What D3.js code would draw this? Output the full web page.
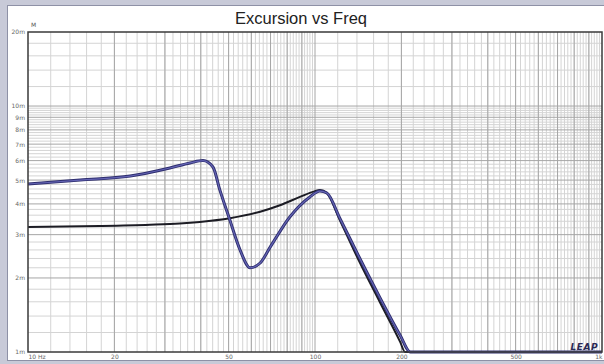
<!DOCTYPE html>
<html>
<head>
<meta charset="utf-8">
<script src="https://cdn.jsdelivr.net/npm/d3@7"></script>
<style>
  html, body { margin: 0; padding: 0; background: #c8cad8; }
  svg { display: block; }
</style>
</head>
<body>
<svg id="chart" width="604" height="364"></svg>
<script>
// Cone excursion (mm) versus frequency (Hz)
const freqBlue = [10, 15.2, 22.7, 31.2, 36.7, 40.7, 44.1, 46.6, 50.5, 54.8, 59.4, 64.4, 69.8, 81.7, 96, 104, 110, 122, 143, 168, 198, 215, 300, 600, 1000];
const excBlue  = [4.82, 5.0, 5.19, 5.6, 5.87, 6.0, 5.65, 4.56, 3.44, 2.6, 2.2, 2.3, 2.67, 3.54, 4.27, 4.51, 4.43, 3.5, 2.41, 1.67, 1.17, 1.0, 0.55, 0.15, 0.05];

const freqBlack = [10, 17.8, 26.6, 33.8, 39.7, 50.5, 64.4, 75.5, 88.6, 100, 104, 110, 122, 143, 168, 198, 206, 300, 600, 1000];
const excBlack  = [3.22, 3.25, 3.29, 3.33, 3.38, 3.5, 3.72, 3.95, 4.27, 4.51, 4.56, 4.43, 3.44, 2.32, 1.6, 1.1, 1.0, 0.5, 0.14, 0.05];

const yTickValues = [20, 10, 9, 8, 7, 6, 5, 4, 3, 2, 1];
const yTickLabels = ["20m", "10m", "9m", "8m", "7m", "6m", "5m", "4m", "3m", "2m", "1m"];
const xTickValues = [10, 20, 50, 100, 200, 500, 1000];
const xTickLabels = ["10 Hz", "20", "50", "100", "200", "500", "1k"];

const svg = d3.select("#chart");
const W = 604, H = 364;
const plot = { left: 28, right: 602, top: 32, bottom: 352 };

// window frame and white panel
svg.append("rect").attr("x", 0).attr("y", 0).attr("width", W).attr("height", H).attr("fill", "#c8cad8");
svg.append("rect").attr("x", 7.5).attr("y", 5.5).attr("width", W - 7).attr("height", 355)
  .attr("fill", "#ffffff").attr("stroke", "#8e91a6").attr("stroke-width", 1);

const x = d3.scaleLog().domain([10, 1000]).range([plot.left, plot.right]);
const y = d3.scaleLog().domain([1, 20]).range([plot.bottom, plot.top]).clamp(true);

// grid: 2 Hz steps below 100 Hz, 20 Hz steps above
const xMinor = d3.range(12, 100, 2).concat(d3.range(120, 1000, 20));
const xMajor = d3.range(20, 100, 10).concat(d3.range(200, 1000, 100), [100]);
const yMinor = d3.range(1.2, 10, 0.2).filter(v => Math.abs(v - Math.round(v)) > 1e-6).concat([12, 14, 16, 18]);
const yMajor = d3.range(2, 11, 1);

const grid = svg.append("g");
grid.selectAll(".vmin").data(xMinor).join("line")
  .attr("x1", d => x(d)).attr("x2", d => x(d)).attr("y1", plot.top).attr("y2", plot.bottom)
  .attr("stroke", "#d4d4d4").attr("stroke-width", 1);
grid.selectAll(".hmin").data(yMinor).join("line")
  .attr("x1", plot.left).attr("x2", plot.right).attr("y1", d => y(d)).attr("y2", d => y(d))
  .attr("stroke", "#d4d4d4").attr("stroke-width", 1);
grid.selectAll(".vmaj").data(xMajor).join("line")
  .attr("x1", d => x(d)).attr("x2", d => x(d)).attr("y1", plot.top).attr("y2", plot.bottom)
  .attr("stroke", "#a6a6a6").attr("stroke-width", 1);
grid.selectAll(".hmaj").data(yMajor).join("line")
  .attr("x1", plot.left).attr("x2", plot.right).attr("y1", d => y(d)).attr("y2", d => y(d))
  .attr("stroke", "#a6a6a6").attr("stroke-width", 1);

// curves
const line = d3.line().x(d => x(d[0])).y(d => y(d[1])).curve(d3.curveMonotoneX);
const clipId = "plotClip";
svg.append("clipPath").attr("id", clipId).append("rect")
  .attr("x", plot.left).attr("y", plot.top - 2).attr("width", plot.right - plot.left).attr("height", plot.bottom - plot.top + 4);

const curves = svg.append("g").attr("clip-path", `url(#${clipId})`);
curves.append("path").datum(d3.zip(freqBlack, excBlack)).attr("d", line)
  .attr("fill", "none").attr("stroke", "#1c1c24").attr("stroke-width", 2);
curves.append("path").datum(d3.zip(freqBlue, excBlue)).attr("d", line)
  .attr("fill", "none").attr("stroke", "#2e2e6e").attr("stroke-width", 3);
curves.append("path").datum(d3.zip(freqBlue, excBlue)).attr("d", line)
  .attr("fill", "none").attr("stroke", "#6464b4").attr("stroke-width", 1.2);

// plot border
svg.append("rect").attr("x", plot.left).attr("y", plot.top)
  .attr("width", plot.right - plot.left).attr("height", plot.bottom - plot.top)
  .attr("fill", "none").attr("stroke", "#3a3a3a").attr("stroke-width", 1.5);

// axes
const yAxis = d3.axisLeft(y).tickValues(yTickValues).tickSize(0).tickPadding(3)
  .tickFormat((d, i) => yTickLabels[i]);
const gy = svg.append("g").attr("transform", `translate(${plot.left},0)`).call(yAxis);
gy.select(".domain").remove();
gy.selectAll("text").attr("font-family", "DejaVu Sans, sans-serif").attr("font-size", 6).attr("fill", "#666");

const xAxis = d3.axisBottom(x).tickValues(xTickValues).tickSize(0).tickPadding(3)
  .tickFormat((d, i) => xTickLabels[i]);
const gx = svg.append("g").attr("transform", `translate(0,${plot.bottom})`).call(xAxis);
gx.select(".domain").remove();
gx.selectAll("text").attr("font-family", "DejaVu Sans, sans-serif").attr("font-size", 6).attr("fill", "#666")
  .attr("text-anchor", (d, i) => i === 0 ? "start" : (i === xTickValues.length - 1 ? "end" : "middle"));

// unit label
svg.append("text").attr("x", 31).attr("y", 27).text("M")
  .attr("font-family", "DejaVu Sans, sans-serif").attr("font-size", 6).attr("fill", "#555");

// title
svg.append("text").attr("x", 301).attr("y", 24).attr("text-anchor", "middle")
  .text("Excursion vs Freq")
  .attr("font-family", "Liberation Sans, Arial, sans-serif").attr("font-size", 16.5).attr("fill", "#222");

// logo
svg.append("text").attr("x", 598).attr("y", 350).attr("text-anchor", "end")
  .text("LEAP").attr("font-family", "DejaVu Sans, sans-serif").attr("font-size", 9)
  .attr("font-weight", "bold").attr("font-style", "italic").attr("letter-spacing", 0.5).attr("fill", "#2a2a55");
</script>
</body>
</html>
